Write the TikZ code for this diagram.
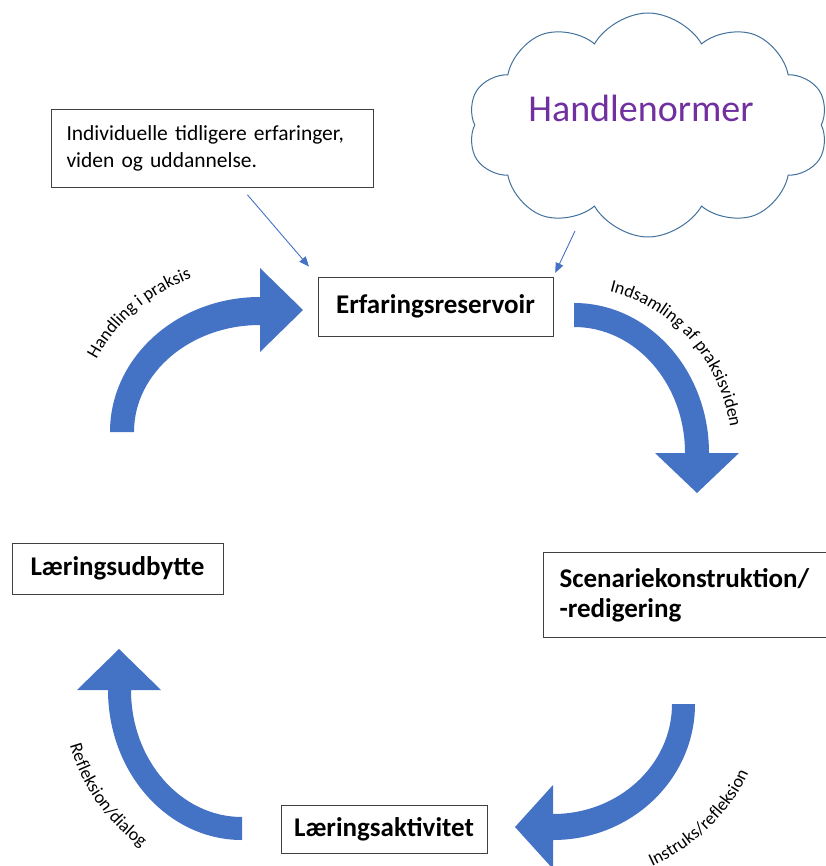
\documentclass[tikz,border=0pt]{standalone}
\usepackage{fontspec}
\setmainfont{Carlito}
\usepackage{tikz}
\usetikzlibrary{calc,shapes.symbols,decorations.text,arrows.meta}
\definecolor{arrowblue}{HTML}{4472C4}
\definecolor{cloudblue}{HTML}{41719C}
\definecolor{normpurple}{HTML}{7030A0}

\begin{document}
\begin{tikzpicture}[x=1pt,y=1pt,
	box/.style={draw=black!75,line width=1pt,fill=white,inner sep=0pt,font=\fontsize{27}{30}\selectfont\bfseries},
	bigarrow/.style={fill=arrowblue,draw=none},
	pointer/.style={draw=arrowblue,line width=0.9pt,-{Triangle[length=10pt,width=8pt]}},
	arclabel/.style={decorate,decoration={text along path,text color=black}}]
	\useasboundingbox (0,0) rectangle (825,-866);

	%boxes
	\node[box,anchor=north west,text width=292,inner xsep=15,minimum height=78,align=left,font=\fontsize{21.5}{27}\selectfont] (info) at (51,-109) {Individuelle tidligere erfaringer,\\viden og uddannelse.};
	\node[box,minimum width=235,minimum height=59] (erfa) at (435.5,-306.5) {Erfaringsreservoir};
	\node[box,anchor=north west,text width=265,inner xsep=16,minimum height=85,align=left] (scenarie) at (543,-552) {Scenariekonstruktion/\\-redigering};
	\node[box,minimum width=206,minimum height=48] (aktivitet) at (384,-829) {Læringsaktivitet};
	\node[box,minimum width=211,minimum height=51] (udbytte) at (117.5,-568.5) {Læringsudbytte};

	%cloud
	\node[cloud,cloud puffs=10,cloud puff arc=120,cloud ignores aspect,draw=cloudblue,line width=1pt,minimum width=360,minimum height=224,inner sep=0pt] (normer) at (648,-125) {};
	\node[text=normpurple,font=\fontsize{38}{38}\selectfont,anchor=base] (normtxt) at (641,-122) {Handlenormer};
	\coordinate (normfoot) at ($(normer.center)+(-73,-106)$);

	%pointers
	\draw[pointer,shorten <=9,shorten >=13] ($(info.south west)!0.59!(info.south east)$) -- (erfa.north west);
	\draw[pointer,shorten >=4] (normfoot) -- (erfa.north east);

	%curved arrows
	\fill[bigarrow] (110,-432) arc[start angle=180,end angle=90,x radius=150,y radius=135] -- (260,-268) -- (303,-310) -- (260,-352) -- (260,-325) arc[start angle=90,end angle=180,x radius=126,y radius=107] -- cycle;
	\fill[bigarrow] (574,-303) arc[start angle=90,end angle=0,x radius=135,y radius=150] -- (739,-453) -- (697,-493) -- (655,-453) -- (685,-453) arc[start angle=0,end angle=90,x radius=111,y radius=126] -- cycle;
	\fill[bigarrow] (695,-704) arc[start angle=0,end angle=-90,x radius=142,y radius=136] -- (553,-869) -- (515,-827) -- (553,-785) -- (553,-814) arc[start angle=-90,end angle=0,x radius=119,y radius=110] -- cycle;
	\fill[bigarrow] (242,-840) arc[start angle=-90,end angle=-180,x radius=134,y radius=150] -- (77,-690) -- (119,-649) -- (161,-690) -- (131,-690) arc[start angle=180,end angle=270,x radius=111,y radius=127] -- cycle;

	%arrow labels
	\path[arclabel,decoration={text={|\fontsize{18}{18}\selectfont|Handling i praksis}}] ($(260,-432)+(154:182 and 166)$) arc[start angle=154,end angle=90,x radius=182,y radius=166];
	\path[arclabel,decoration={text={|\fontsize{18}{18}\selectfont|Indsamling af praksisviden}}] ($(574,-453)+(77:158 and 166)$) arc[start angle=77,end angle=-15,x radius=158,y radius=166];
	\path[arclabel,decoration={text={|\fontsize{18}{18}\selectfont|Instruks/refleksion}}] ($(553,-704)+(-62:211 and 184)$) arc[start angle=-62,end angle=8,x radius=211,y radius=184];
	\path[arclabel,decoration={text={|\fontsize{18}{18}\selectfont|Refleksion/dialog}}] ($(242,-690)+(197:180 and 190)$) arc[start angle=197,end angle=270,x radius=180,y radius=190];
\end{tikzpicture}
\end{document}
